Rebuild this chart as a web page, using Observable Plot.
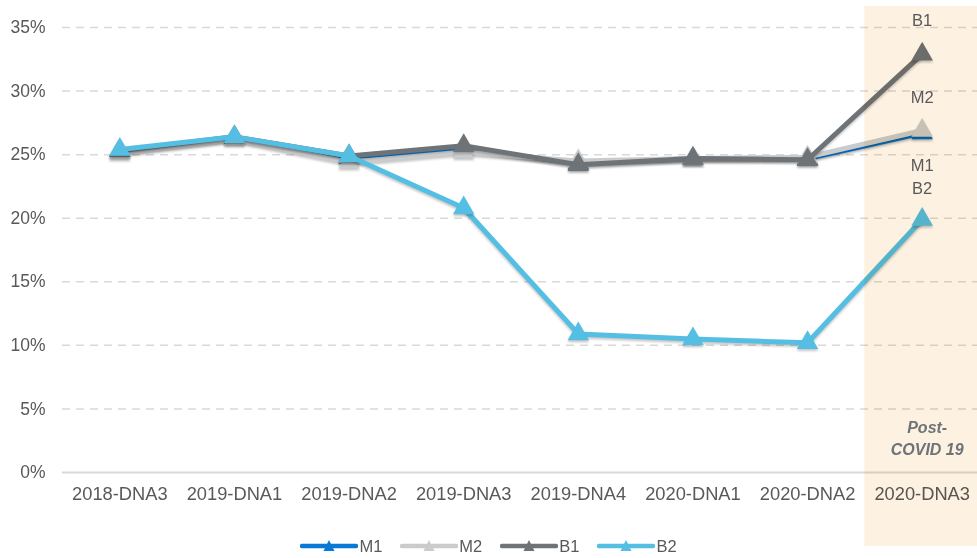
<!DOCTYPE html>
<html>
<head>
<meta charset="utf-8">
<script src="https://cdn.jsdelivr.net/npm/d3@7"></script>
<script src="https://cdn.jsdelivr.net/npm/@observablehq/plot@0.6"></script>
<style>
  html, body { margin: 0; padding: 0; background: #fff; }
  body { width: 977px; height: 558px; overflow: hidden; font-family: "Liberation Sans", Arial, sans-serif; }
  #legend { position: relative; height: 24px; margin-top: -12px; display: flex; justify-content: center; align-items: center; gap: 18px; padding-left: 0px; }
  .item { display: flex; align-items: center; font-size: 16.5px; color: #595959; }
  .item svg { margin-right: 1px; }
  #chart g[aria-label="line"] path, #chart g[aria-label="dot"] path { filter: drop-shadow(0px 2.5px 1.2px rgba(0,0,0,0.22)); }
</style>
</head>
<body>
<div id="chart"></div>
<div id="legend"></div>
<script>
const categories = ["2018-DNA3", "2019-DNA1", "2019-DNA2", "2019-DNA3", "2019-DNA4", "2020-DNA1", "2020-DNA2", "2020-DNA3"];
const m1 = [25.3, 26.3, 24.8, 25.5, 24.3, 24.7, 24.7, 26.7];
const m2 = [25.1, 26.2, 24.4, 25.2, 24.5, 24.7, 24.8, 26.9];
const b1 = [25.3, 26.4, 24.9, 25.7, 24.2, 24.7, 24.6, 32.9];
const b2 = [25.4, 26.4, 24.9, 20.8, 10.9, 10.5, 10.2, 19.9];
const seriesNames = ["M1", "M2", "B1", "B2"];
const seriesColors = ["#0a78d7", "#c9cbcc", "#6d7377", "#55bfe3"];
const yTicks = [0, 5, 10, 15, 20, 25, 30, 35];
const shadedCategory = "2020-DNA3";
const noteText = "Post-\nCOVID 19";

const seriesValues = [m1, m2, b1, b2];
const rows = seriesNames.flatMap((s, i) => categories.map((c, j) => ({series: s, cat: c, value: seriesValues[i][j]})));
const lastRows = seriesNames.map(s => rows.filter(r => r.series === s && r.cat === categories[categories.length - 1])[0]);

const labelDy = {M1: 33, M2: -33, B1: -33, B2: -31};
const textColor = "#595959";

const marks = [];
marks.push(Plot.ruleY(yTicks.filter(t => t > 0), {stroke: "#d9d9d9", strokeWidth: 1.5, strokeDasharray: "8,6"}));
marks.push(Plot.ruleY([0], {stroke: "#d9d9d9", strokeWidth: 2}));
marks.push(Plot.axisY({ticks: yTicks, tickFormat: d => d + "%", tickSize: 0, tickPadding: 17, fontSize: 17.5, color: textColor, label: null}));
marks.push(Plot.axisX({tickSize: 0, tickPadding: 14, fontSize: 18.3, color: textColor, label: null}));
seriesNames.forEach((s, i) => {
  const d = rows.filter(r => r.series === s);
  marks.push(Plot.line(d, {x: "cat", y: "value", stroke: seriesColors[i], strokeWidth: 5, strokeLinejoin: "round", strokeLinecap: "round"}));
  marks.push(Plot.dot(d, {x: "cat", y: "value", fill: seriesColors[i], symbol: "triangle", r: 8, stroke: "none"}));
});
marks.push(Plot.cell([{cat: shadedCategory}], {x: "cat", fill: "#fdf1e2", mixBlendMode: "multiply", insetTop: -21, insetBottom: -74}));
lastRows.forEach(r => {
  marks.push(Plot.text([r], {x: "cat", y: "value", text: "series", dy: labelDy[r.series], fontSize: 16.5, fill: textColor}));
});
marks.push(Plot.text([{cat: shadedCategory, t: noteText}], {x: "cat", text: "t", frameAnchor: "bottom", lineAnchor: "bottom", dy: -18, dx: 5, fontSize: 16, fontWeight: "bold", fontStyle: "italic", fill: "#6d7377", lineHeight: 1.35}));

const chart = Plot.plot({
  width: 977,
  height: 546,
  marginLeft: 62,
  marginRight: -2,
  marginTop: 27,
  marginBottom: 74,
  style: {fontFamily: "'Liberation Sans', Arial, sans-serif", background: "#fff", overflow: "visible"},
  x: {type: "band", domain: categories, padding: 0, round: false, axis: null},
  y: {domain: [0, 35], axis: null},
  marks
});
document.getElementById("chart").appendChild(chart);

const legend = document.getElementById("legend");
seriesNames.forEach((s, i) => {
  const item = document.createElement("div");
  item.className = "item";
  item.innerHTML = `<svg width="58" height="14" viewBox="0 0 58 14"><line x1="2" y1="7" x2="56" y2="7" stroke="${seriesColors[i]}" stroke-width="4.5" stroke-linecap="round"/><path d="M29,1 L34.5,12 L23.5,12 Z" fill="${seriesColors[i]}"/></svg><span>${s}</span>`;
  legend.appendChild(item);
});
</script>
</body>
</html>
